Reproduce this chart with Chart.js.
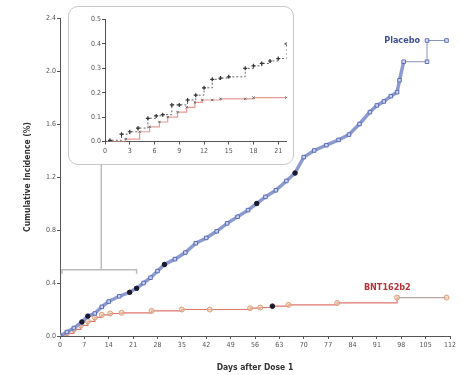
<!DOCTYPE html>
<html lang="en">
<head>
    <meta charset="UTF-8">
    <title>Cumulative Incidence after Dose 1</title>
    <script src="https://cdn.jsdelivr.net/npm/chart.js"></script>
    <style>
        body {
            margin: 0;
            background: #fff;
        }
        .wrap {
            position: relative;
            width: 460px;
            height: 375px;
        }
        .inset {
            position: absolute;
            left: 68px;
            top: 6px;
            width: 226px;
            height: 159px;
            box-sizing: border-box;
            border: 1.5px solid #c8c8c8;
            border-radius: 10px;
            background: #fff;
        }
    </style>
</head>
<body>
<div class="wrap">
    <canvas id="mainChart" width="460" height="375"></canvas>
    <div class="inset">
        <canvas id="insetChart" width="223" height="156"></canvas>
    </div>
</div>

<script>
    // main panel, values (days, cumulative %)
    const placeboDays = [0, 2, 4, 6.3, 8, 10, 12, 14, 17, 20, 22, 24, 26, 28, 30, 33, 36, 39, 42, 45, 48, 51, 54, 56.5, 59, 62, 65, 67.5, 70, 73, 76.5, 80, 83, 86, 89, 91, 93, 95, 96.8, 97.5, 98.7, 105.4, 105.4, 111];
    const placeboPct  = [0, 0.03, 0.06, 0.106, 0.15, 0.17, 0.22, 0.26, 0.30, 0.33, 0.36, 0.40, 0.44, 0.49, 0.54, 0.58, 0.63, 0.70, 0.74, 0.79, 0.85, 0.90, 0.95, 1.00, 1.05, 1.10, 1.17, 1.23, 1.35, 1.40, 1.44, 1.48, 1.52, 1.60, 1.69, 1.74, 1.77, 1.81, 1.84, 1.93, 2.07, 2.07, 2.23, 2.23];

    const bntDays = [0, 2, 4, 6, 8, 10, 12, 14.4, 17.7, 26.3, 35, 43, 54.6, 57.5, 61, 65.6, 79.6, 96.8, 111];
    const bntPct  = [0, 0.02, 0.05, 0.08, 0.11, 0.14, 0.16, 0.17, 0.175, 0.19, 0.20, 0.20, 0.21, 0.215, 0.225, 0.235, 0.25, 0.29, 0.29];

    // filled black markers
    const severePlaceboDays = [6.3, 8, 20, 22, 30, 56.5, 67.5];
    const severePlaceboPct  = [0.106, 0.15, 0.33, 0.36, 0.54, 1.00, 1.23];
    const severeBntDays = [61];
    const severeBntPct  = [0.225];

    // inset, first 21 days
    const insetPlaceboDays = [0, 0.6, 2, 3, 4, 5.2, 6.2, 7, 8.1, 9, 10, 11, 12, 13, 14, 15, 17, 18, 19, 20, 21, 22];
    const insetPlaceboPct  = [0, 0.005, 0.03, 0.04, 0.055, 0.095, 0.105, 0.11, 0.15, 0.15, 0.17, 0.19, 0.22, 0.255, 0.26, 0.265, 0.30, 0.31, 0.32, 0.33, 0.34, 0.40];

    const insetBntDays = [0, 2.5, 4.2, 5.4, 6.6, 7.6, 8.8, 9.9, 10.9, 11.8, 13, 14, 17, 18, 22];
    const insetBntPct  = [0, 0.01, 0.04, 0.06, 0.08, 0.10, 0.12, 0.14, 0.16, 0.17, 0.17, 0.175, 0.175, 0.18, 0.18];

    const insetXTicks = [0, 3, 6, 9, 12, 15, 18, 21];

    const blue = '#5a6db5';
    const red = '#e0766c';
    const axisColor = '#555';
    const tickFont = { family: 'DejaVu Sans Condensed, DejaVu Sans, sans-serif', size: 7 };

    function pts(xs, ys) {
        return xs.map((x, i) => ({ x: x, y: ys[i] }));
    }

    // zoom bracket + series labels
    const annotate = {
        id: 'annotate',
        afterDatasetsDraw(chart) {
            const c = chart.ctx;
            const xs = chart.scales.x, ys = chart.scales.y;
            const yb = ys.getPixelForValue(0.5);
            const x0 = xs.getPixelForValue(0) + 2;
            const x1 = xs.getPixelForValue(22);
            c.save();
            c.strokeStyle = '#bbb';
            c.lineWidth = 1.5;
            c.beginPath();
            c.moveTo(x0, yb + 4);
            c.lineTo(x0, yb);
            c.lineTo(x1, yb);
            c.lineTo(x1, yb + 4);
            c.moveTo((x0 + x1) / 2 + 2, yb);
            c.lineTo((x0 + x1) / 2 + 2, 30);
            c.stroke();

            c.font = 'bold 9px DejaVu Sans Condensed, DejaVu Sans, sans-serif';
            c.textBaseline = 'middle';
            const n = placeboDays.length;
            c.fillStyle = '#3d4f99';
            c.textAlign = 'right';
            c.fillText('Placebo', xs.getPixelForValue(placeboDays[n - 2]) - 7, ys.getPixelForValue(placeboPct[n - 1]));
            const m = bntDays.length;
            c.fillStyle = '#b8333a';
            c.textAlign = 'center';
            c.fillText('BNT162b2', xs.getPixelForValue(94), ys.getPixelForValue(bntPct[m - 1]) - 10);
            c.restore();
        }
    };

    // the follow-up tails (after ~day 98) are drawn thin
    const tail = (ctx, thick, thin) => ctx.p0.parsed.x >= 98 ? thin : thick;

    new Chart(document.getElementById('mainChart'), {
        type: 'scatter',
        data: {
            datasets: [
                {
                    data: pts(severePlaceboDays, severePlaceboPct).concat(pts(severeBntDays, severeBntPct)),
                    showLine: false,
                    pointRadius: 2.2,
                    pointBackgroundColor: '#1a1a2e',
                    pointBorderColor: '#1a1a2e'
                },
                {
                    data: pts(placeboDays, placeboPct),
                    showLine: true,
                    borderColor: 'rgba(120,136,200,0.85)',
                    borderWidth: 3.5,
                    segment: {
                        borderWidth: ctx => tail(ctx, 3.5, 1),
                        borderColor: ctx => tail(ctx, 'rgba(120,136,200,0.85)', '#8a93b8')
                    },
                    pointStyle: 'rect',
                    pointRadius: 2.5,
                    pointBorderWidth: 1,
                    pointBorderColor: blue,
                    pointBackgroundColor: 'rgba(230,234,248,0.7)'
                },
                {
                    data: pts(bntDays, bntPct),
                    showLine: true,
                    stepped: 'before',
                    borderColor: red,
                    borderWidth: 1.2,
                    segment: {
                        borderColor: ctx => ctx.p0.parsed.x >= 96 ? '#b9a3a3' : red
                    },
                    pointRadius: 2.5,
                    pointBorderWidth: 1,
                    pointBorderColor: '#d9a07a',
                    pointBackgroundColor: 'rgba(240,200,170,0.6)'
                }
            ]
        },
        options: {
            responsive: false,
            animation: false,
            layout: { padding: { top: 18, right: 10, left: 0, bottom: 0 } },
            plugins: { legend: { display: false }, tooltip: { enabled: false } },
            scales: {
                x: {
                    min: 0, max: 112,
                    afterFit: s => { s.height = 39; },
                    border: { color: axisColor, width: 1 },
                    grid: { display: true, drawOnChartArea: false, tickLength: 3, color: axisColor },
                    ticks: { stepSize: 7, autoSkip: false, maxRotation: 0, padding: 2, color: '#555', font: tickFont },
                    title: {
                        display: true, text: 'Days after Dose 1', color: '#333',
                        font: { family: 'DejaVu Sans Condensed, DejaVu Sans, sans-serif', size: 8.5, weight: 'bold' },
                        padding: { top: 0, bottom: 2 }
                    }
                },
                y: {
                    min: 0, max: 2.4,
                    afterFit: s => { s.width = 60; },
                    border: { color: axisColor, width: 1 },
                    grid: { display: true, drawOnChartArea: false, tickLength: 3, color: axisColor },
                    ticks: { stepSize: 0.4, padding: 1, color: '#555', font: tickFont, callback: v => v.toFixed(1) },
                    title: {
                        display: true, text: 'Cumulative Incidence (%)', color: '#333',
                        font: { family: 'DejaVu Sans Condensed, DejaVu Sans, sans-serif', size: 8.5, weight: 'bold' },
                        padding: { top: 23, bottom: 0 }
                    }
                }
            }
        },
        plugins: [annotate]
    });

    new Chart(document.getElementById('insetChart'), {
        type: 'scatter',
        data: {
            datasets: [
                {
                    data: pts(insetPlaceboDays, insetPlaceboPct),
                    showLine: true,
                    stepped: 'before',
                    borderColor: '#666',
                    borderWidth: 1,
                    borderDash: [2, 2],
                    pointStyle: 'cross',
                    pointRadius: 2,
                    pointBorderWidth: 1.2,
                    pointBorderColor: '#333'
                },
                {
                    data: pts(insetBntDays, insetBntPct),
                    showLine: true,
                    stepped: 'before',
                    borderColor: '#e89a94',
                    borderWidth: 1.2,
                    pointStyle: 'crossRot',
                    pointRadius: 1.6,
                    pointBorderWidth: 1,
                    pointBorderColor: '#666'
                }
            ]
        },
        options: {
            responsive: false,
            animation: false,
            layout: { padding: { top: 12.5, right: 5.5, left: 0, bottom: 0 } },
            plugins: { legend: { display: false }, tooltip: { enabled: false } },
            scales: {
                x: {
                    min: 0, max: 22,
                    afterFit: s => { s.height = 21.5; },
                    afterBuildTicks: s => { s.ticks = insetXTicks.map(v => ({ value: v })); },
                    border: { color: axisColor, width: 1 },
                    grid: { display: true, drawOnChartArea: false, tickLength: 3, color: axisColor },
                    ticks: { autoSkip: false, maxRotation: 0, padding: 2, color: '#555', font: tickFont }
                },
                y: {
                    min: 0, max: 0.5,
                    afterFit: s => { s.width = 36; },
                    border: { color: axisColor, width: 1 },
                    grid: { display: true, drawOnChartArea: false, tickLength: 3, color: axisColor },
                    ticks: { stepSize: 0.1, padding: 1, color: '#555', font: tickFont, callback: v => v.toFixed(1) }
                }
            }
        }
    });
</script>
</body>
</html>
